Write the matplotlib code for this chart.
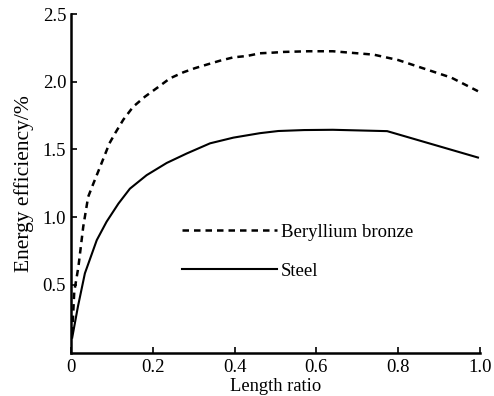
import matplotlib
matplotlib.use("Agg")
import matplotlib.pyplot as plt

plt.rcParams['font.family'] = ['Liberation Serif', 'DejaVu Serif']

# Beryllium bronze (dashed)
x_bronze = [0.003, 0.008, 0.018, 0.030, 0.042, 0.055, 0.071, 0.094, 0.108, 0.128,
            0.152, 0.181, 0.213, 0.242, 0.275, 0.303, 0.336, 0.364, 0.397, 0.43,
            0.462, 0.495, 0.52, 0.58, 0.64, 0.70, 0.74, 0.80, 0.86, 0.93, 0.995]
y_bronze = [0.14, 0.45, 0.63, 0.93, 1.15, 1.25, 1.37, 1.545, 1.62, 1.72,
            1.815, 1.89, 1.96, 2.025, 2.07, 2.10, 2.13, 2.155, 2.18, 2.19,
            2.21, 2.215, 2.22, 2.225, 2.225, 2.21, 2.2, 2.16, 2.1, 2.03, 1.93]

# Steel (solid)
x_steel = [0.003, 0.017, 0.034, 0.063, 0.087, 0.116, 0.144, 0.185, 0.234, 0.283,
           0.34, 0.397, 0.462, 0.507, 0.57, 0.64, 0.773, 0.995]
y_steel = [0.11, 0.34, 0.585, 0.83, 0.966, 1.10, 1.21, 1.31, 1.40, 1.47,
           1.545, 1.587, 1.62, 1.636, 1.643, 1.645, 1.635, 1.44]

xticks = [0, 0.2, 0.4, 0.6, 0.8, 1.0]
xtick_labels = ['0', '0.2', '0.4', '0.6', '0.8', '1.0']
yticks = [0.5, 1.0, 1.5, 2.0, 2.5]
ytick_labels = ['0.5', '1.0', '1.5', '2.0', '2.5']

fig = plt.figure(figsize=(4.94, 3.96), dpi=100)
ax = fig.add_axes([0.1437, 0.1098, 0.828, 0.8548])

ax.plot(x_bronze, y_bronze, color='black', lw=1.8, dashes=(2.6, 2.0),
        label='Beryllium bronze')
ax.plot(x_steel, y_steel, color='black', lw=1.5, label='Steel')

ax.set_xlim(0, 1.0)
ax.set_ylim(0, 2.5)
ax.set_xticks(xticks)
ax.set_xticklabels(xtick_labels)
ax.set_yticks(yticks)
ax.set_yticklabels(ytick_labels)
ax.tick_params(direction='in', length=4, width=1.2, labelsize=13.5)
ax.tick_params(axis='x', pad=5)
ax.spines['top'].set_visible(False)
ax.spines['right'].set_visible(False)
ax.spines['left'].set_linewidth(1.8)
ax.spines['bottom'].set_linewidth(1.8)

ax.set_xlabel('Length ratio', fontsize=13.3, labelpad=1)
ax.set_ylabel('Energy efficiency/%', fontsize=15.5, labelpad=6)

ax.legend(frameon=False, fontsize=13.5, loc='upper left',
          bbox_to_anchor=(0.271, 0.38), borderpad=0, borderaxespad=0,
          handlelength=5.07, handletextpad=0.2, labelspacing=1.15)

fig.savefig('out.png', dpi=100)
